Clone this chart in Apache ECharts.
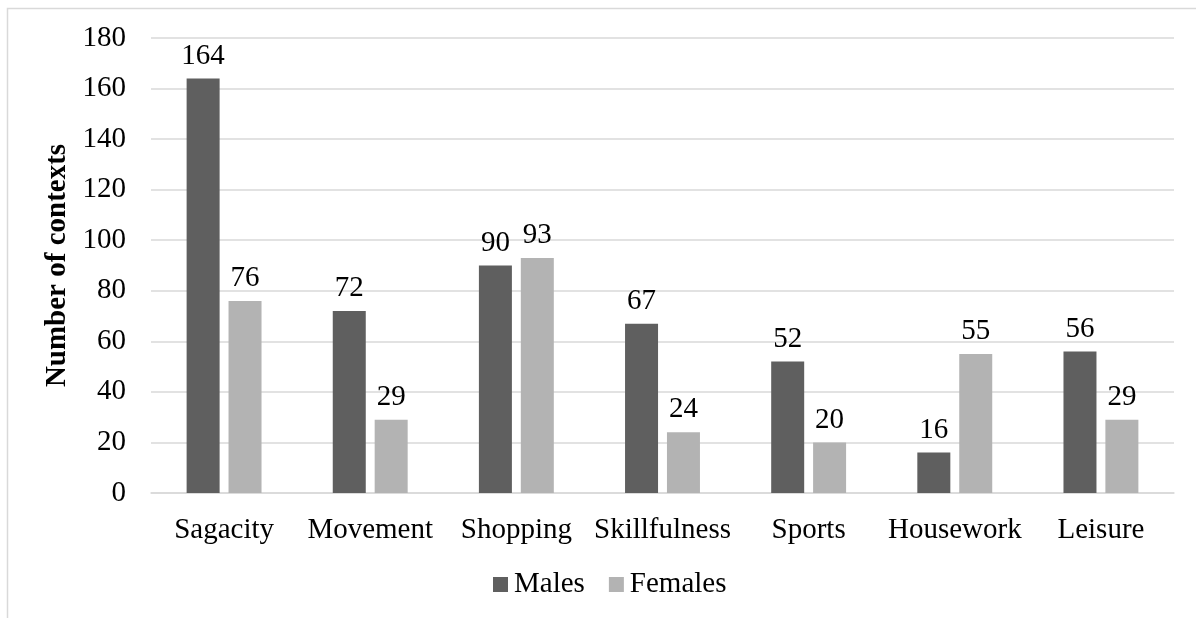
<!DOCTYPE html>
<html>
<head>
<meta charset="utf-8">
<script src="https://cdn.jsdelivr.net/npm/echarts@6/dist/echarts.min.js"></script>
<style>
  html, body { margin: 0; padding: 0; background: #fff; }
  #chart { width: 1196px; height: 618px; }
</style>
</head>
<body>
<div id="chart"></div>
<script>
// Contexts by theme, split by gender
const categories = ['Sagacity', 'Movement', 'Shopping', 'Skillfulness', 'Sports', 'Housework', 'Leisure'];
const males = [164, 72, 90, 67, 52, 16, 56];
const females = [76, 29, 93, 24, 20, 55, 29];
const yTicks = { min: 0, max: 180, interval: 20 };

const FONT = '"Liberation Serif", "Times New Roman", serif';
const FS = 29;
const chart = echarts.init(document.getElementById('chart'));

const labelStyle = {
  show: true,
  position: 'top',
  distance: 8,
  color: '#000',
  fontFamily: FONT,
  fontSize: FS
};

chart.setOption({
  animation: false,
  backgroundColor: '#fff',
  textStyle: { fontFamily: FONT },
  graphic: [{
    type: 'polyline',
    shape: { points: [[7.5, 618], [7.5, 8.5], [1196, 8.5]] },
    style: { stroke: '#d9d9d9', lineWidth: 1.5, fill: null },
    silent: true
  }],
  grid: { left: 151, right: 22, top: 38, bottom: 125 },
  legend: {
    bottom: 19,
    left: 493,
    padding: 0,
    itemWidth: 15,
    itemHeight: 15,
    itemGap: 24,
    icon: 'rect',
    textStyle: { fontFamily: FONT, fontSize: FS, color: '#000', padding: [0, 0, 0, 1] },
    data: ['Males', 'Females']
  },
  xAxis: {
    type: 'category',
    data: categories,
    axisLine: { lineStyle: { color: '#d9d9d9', width: 1.5 } },
    axisTick: { show: false },
    axisLabel: { color: '#000', fontFamily: FONT, fontSize: FS, margin: 23, interval: 0 }
  },
  yAxis: {
    type: 'value',
    min: yTicks.min,
    max: yTicks.max,
    interval: yTicks.interval,
    name: 'Number of contexts',
    nameLocation: 'middle',
    nameGap: 77,
    nameTextStyle: { color: '#000', fontFamily: FONT, fontSize: FS, fontWeight: 'bold' },
    axisLine: { show: false },
    axisTick: { show: false },
    axisLabel: { color: '#000', fontFamily: FONT, fontSize: FS, margin: 25 },
    splitLine: { lineStyle: { color: '#d9d9d9', width: 1.5 } }
  },
  series: [
    {
      name: 'Males',
      type: 'bar',
      data: males,
      barWidth: 33,
      barGap: '27%',
      itemStyle: { color: '#5f5f5f' },
      label: labelStyle
    },
    {
      name: 'Females',
      type: 'bar',
      data: females,
      barWidth: 33,
      itemStyle: { color: '#b3b3b3' },
      label: labelStyle
    }
  ]
});
</script>
</body>
</html>
